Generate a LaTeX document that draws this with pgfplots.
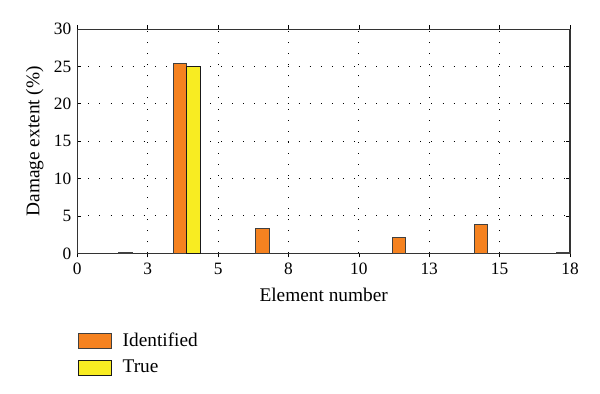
\documentclass[border=0pt]{standalone}
\usepackage{pgfplots}
\pgfplotsset{compat=1.18}
\usepackage{fontspec}
\setmainfont{Liberation Serif}
\definecolor{ident}{HTML}{F58220}
\definecolor{truec}{HTML}{F8EC22}
\begin{document}
\fontsize{13}{15}\selectfont
\begin{tikzpicture}
\begin{axis}[
  at={(0pt,0pt)}, anchor=origin,
  scale only axis,
  width=369.5pt, height=168.2pt,
  xmin=0, xmax=18, ymin=0, ymax=30,
  xtick={0,2.5714,5.1429,7.7143,10.2857,12.8571,15.4286,18},
  xticklabels={0,3,5,8,10,13,15,18},
  ytick={0,5,10,15,20,25,30},
  /pgf/number format/assume math mode=true,
  tick label style={font=\fontsize{13}{15}\selectfont},
  label style={font=\fontsize{14.5}{16}\selectfont},
  xlabel={Element number},
  ylabel={Damage extent (\%)},
  xmajorgrids, ymajorgrids,
  grid style={black, line width=0.7pt, dash pattern=on 0.7pt off 7.6pt},
  tick align=inside,
  major tick length=3pt,
  tick style={black, line width=0.5pt},
  axis line style={line width=0.8pt, black!80},
  ybar,
  bar width=0.5,
  legend style={draw=none, fill=none, inner sep=0pt, at={(0,-0.343)}, anchor=north west,
    font=\fontsize{14.5}{16}\selectfont, row sep=4pt, cells={anchor=west}},
  legend image code/.code={\draw[#1, line width=0.8pt] (0pt,-5.6pt) rectangle (25pt,5.6pt);},
  legend cell align=left,
  xlabel style={yshift=-1pt},
  ylabel style={yshift=-1pt},
]
\addplot[fill=ident, draw=black!75, line width=0.6pt, bar shift=-0.25] coordinates {
(2,0.15) (4,25.4) (7,3.35) (12,2.15) (15,3.9) (18,0.08)
};
\addlegendentry{\hspace{6pt}Identified}
\addplot[fill=truec, draw=black!90, line width=0.8pt, bar shift=0.25] coordinates {
(4,25)
};
\addlegendentry{\hspace{6pt}True}
\end{axis}
\useasboundingbox (-58pt,-104.8pt) rectangle (392pt,190pt);
\end{tikzpicture}
\end{document}
